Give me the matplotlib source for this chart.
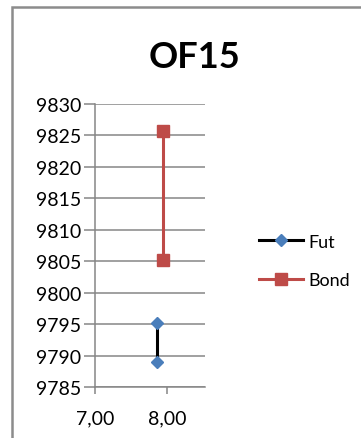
import matplotlib.pyplot as plt
from matplotlib.patches import Rectangle
from matplotlib.ticker import FuncFormatter

plt.rcParams['font.family'] = ['Lato', 'DejaVu Sans']

# data
fut_x = [7.86, 7.86]
fut_y = [9795.1, 9789.0]
bond_x = [7.94, 7.94]
bond_y = [9825.6, 9805.1]
y_ticks = [9785, 9790, 9795, 9800, 9805, 9810, 9815, 9820, 9825, 9830]
x_ticks = [7.0, 8.0]

grid_col = '#868686'

fig = plt.figure(figsize=(3.61, 4.39), dpi=100)
fig.patch.set_facecolor('white')

# outer chart border (runs off the right/bottom edge)
fig.add_artist(Rectangle((12 / 361, -0.05), 1.2, 1 - 8 / 439 + 0.05,
                         transform=fig.transFigure, fill=False,
                         edgecolor='#8c8c8c', linewidth=1.8))

ax = fig.add_axes([95 / 361, 1 - 388 / 439, 110 / 361, (388 - 104.7) / 439])

ax.plot(fut_x, fut_y, color='black', linewidth=2.2, marker='D', markersize=6.5,
        markerfacecolor='#4a7ebb', markeredgecolor='#4a7ebb', label='Fut', zorder=3)
ax.plot(bond_x, bond_y, color='#be4b48', linewidth=2.2, marker='s', markersize=8,
        markerfacecolor='#be4b48', markeredgecolor='#be4b48', label='Bond', zorder=3)

ax.set_xlim(7.0, 8.53)
ax.set_ylim(9785, 9830)
ax.set_yticks(y_ticks)
ax.set_xticks(x_ticks)
ax.xaxis.set_major_formatter(FuncFormatter(lambda v, p: f'{v:.2f}'.replace('.', ',')))

ax.grid(axis='y', color=grid_col, linewidth=1.1)
ax.set_axisbelow(True)
for s in ['top', 'right']:
    ax.spines[s].set_visible(False)
for s in ['left', 'bottom']:
    ax.spines[s].set_color(grid_col)
    ax.spines[s].set_linewidth(1.1)
ax.tick_params(axis='y', length=8, color=grid_col, width=1.1, labelsize=14, pad=2)
ax.tick_params(axis='x', length=5, color=grid_col, width=1.1, labelsize=14, pad=11)

fig.text(195 / 361, 1 - 57 / 439, 'OF15', ha='center', va='center',
         fontsize=26, fontweight='bold')

leg = fig.legend(loc='center left', bbox_to_anchor=(243 / 361, 1 - 262 / 439),
                 frameon=False, fontsize=13, handlelength=2.4, labelspacing=1.25,
                 handletextpad=0.3)

fig.savefig('out.png', dpi=100)
